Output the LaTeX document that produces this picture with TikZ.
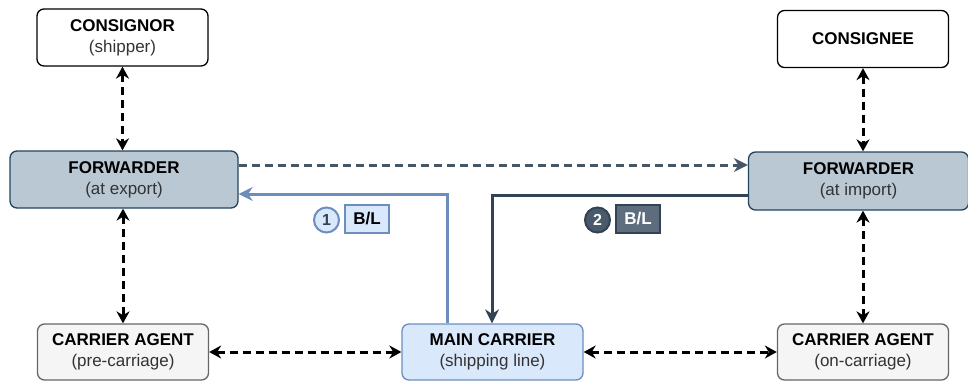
\documentclass[tikz,border=0pt]{standalone}
\usepackage{fontspec}
\setmainfont{Liberation Sans}
\usetikzlibrary{arrows.meta,positioning,calc}
\definecolor{fwdfill}{HTML}{BAC8D3}
\definecolor{fwdline}{HTML}{23445D}
\definecolor{agfill}{HTML}{F5F5F5}
\definecolor{agline}{HTML}{666666}
\definecolor{mcfill}{HTML}{DAE8FC}
\definecolor{mcline}{HTML}{6C8EBF}
\definecolor{darkflow}{HTML}{314354}
\definecolor{darkbadge}{HTML}{4A5A6A}
\definecolor{darkbl}{HTML}{5D6D7E}
\definecolor{subtext}{HTML}{333333}
\tikzset{
  box/.style={draw, rounded corners=7pt, line width=1.3pt, align=center,
    inner sep=0pt, font=\fontsize{17}{21}\selectfont},
  party/.style={box, fill=white, draw=black, minimum width=171pt, minimum height=57pt},
  fwd/.style={box, fill=fwdfill, draw=fwdline},
  agent/.style={box, fill=agfill, draw=agline, minimum width=171pt, minimum height=56pt},
  mainc/.style={box, fill=mcfill, draw=mcline, minimum width=181pt, minimum height=56pt},
  link/.style={dashed, dash pattern=on 8pt off 5pt, line width=3pt,
    {Stealth[length=12pt,width=13pt]}-{Stealth[length=12pt,width=13pt]}},
  flow/.style={line width=3pt, -{Stealth[length=14pt,width=14pt]}},
  num/.style={circle, line width=2pt, minimum size=25pt, inner sep=0pt,
    font=\bfseries\fontsize{16}{16}\selectfont},
  tag/.style={line width=1.3pt, minimum width=44pt, minimum height=28pt, inner sep=0pt,
    font=\bfseries\fontsize{17}{17}\selectfont}
}
\newcommand{\ttl}[1]{{\bfseries #1}}
\newcommand{\sub}[1]{{\color{subtext}#1}}
\begin{document}
\begin{tikzpicture}[x=1pt,y=-1pt]
\useasboundingbox (0,0) rectangle (968,383);

% parties at both ends
\node[party] (consignor) at (122.5,37.5) {\ttl{CONSIGNOR}\\\sub{(shipper)}};
\node[party] (consignee) at (863,39) {\ttl{CONSIGNEE}};

% forwarders
\node[fwd, minimum width=228pt, minimum height=57pt] (fwdexp) at (124,179.5)
  {\ttl{FORWARDER}\\\sub{(at export)}};
\node[fwd, minimum width=220pt, minimum height=58pt] (fwdimp) at (858.5,181)
  {\ttl{FORWARDER}\\\sub{(at import)}};

% carriers
\node[agent] (agpre) at (123,352) {\ttl{CARRIER AGENT}\\\sub{(pre-carriage)}};
\node[mainc] (main) at (492.5,352) {\ttl{MAIN CARRIER}\\\sub{(shipping line)}};
\node[agent] (agon) at (863,352) {\ttl{CARRIER AGENT}\\\sub{(on-carriage)}};

% dashed two-way links
\draw[link] (consignor.south) -- (fwdexp.north -| consignor.south);
\draw[link] (fwdexp.south -| agpre.north) -- (agpre.north);
\draw[link] (consignee.south) -- (fwdimp.north -| consignee.south);
\draw[link] (fwdimp.south -| agon.north) -- (agon.north);
\draw[link] (agpre.east) -- (main.west);
\draw[link] (main.east) -- (agon.west);

% forwarder to forwarder
\coordinate (fe) at ($(fwdexp.east)+(0,-14.5)$);
\draw[dashed, dash pattern=on 8pt off 5pt, line width=3pt, draw=darkflow!90,
  -{Stealth[length=14pt,width=14pt]}] (fe) -- (fwdimp.west |- fe);

% bill of lading flows
\coordinate (up1) at (447,194);
\draw[flow, draw=mcline] (main.north -| up1) -- (up1) -- (fwdexp.east |- up1);
\coordinate (dn2) at (492,195);
\draw[flow, draw=darkflow] (fwdimp.west |- dn2) -- (dn2) -- (main.north -| dn2);

% badges
\node[num, draw=mcline, fill=mcfill, text=darkflow] (n1) at (326.5,220) {1};
\node[tag, draw=mcline, fill=mcfill, text=black] (bl1) at (367,219) {B/L};
\node[num, draw=darkflow, fill=darkbadge, text=white] (n2) at (597.5,220) {2};
\node[tag, draw=darkflow, fill=darkbl, text=white] (bl2) at (638,219) {B/L};
\end{tikzpicture}
\end{document}
